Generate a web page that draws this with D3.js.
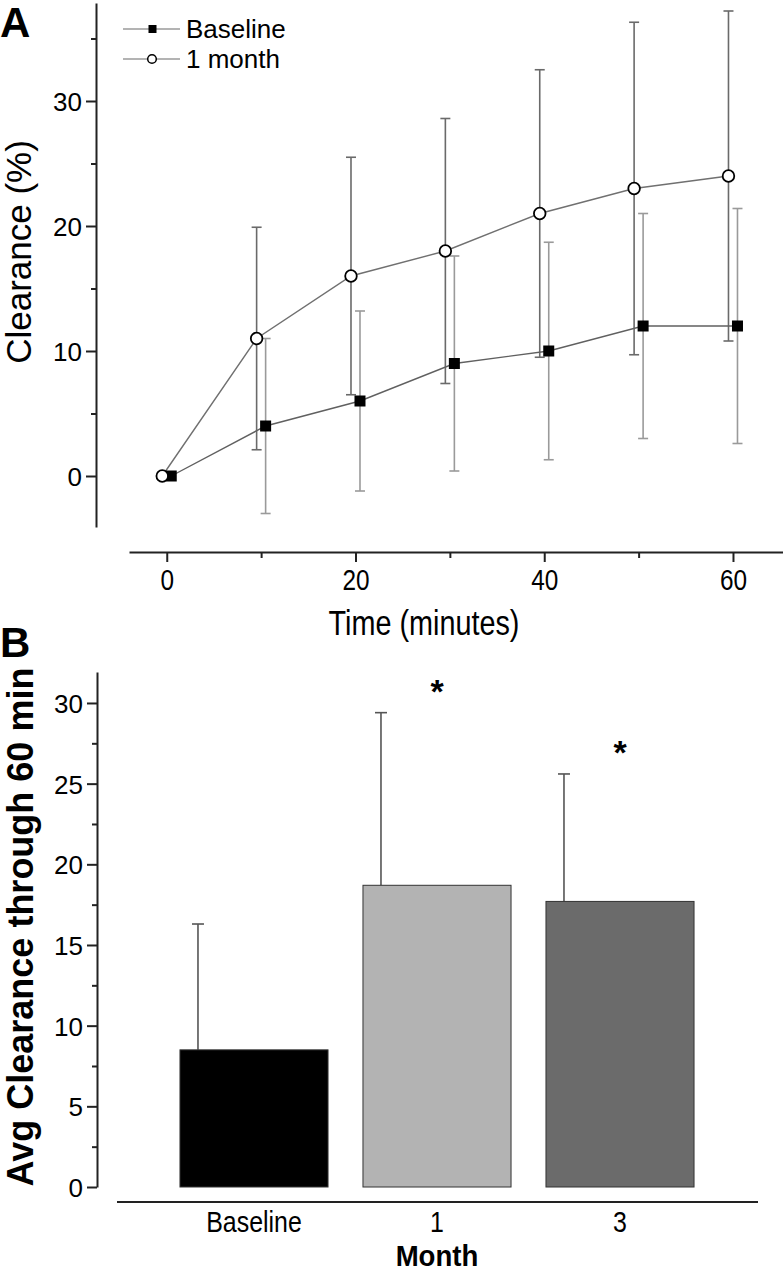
<!DOCTYPE html>
<html>
<head>
<meta charset="utf-8">
<script src="https://cdn.jsdelivr.net/npm/d3@7"></script>
<style>
  body { margin: 0; background: #fff; }
  text { font-family: 'Liberation Sans', Arial, sans-serif; fill: #000; }
</style>
</head>
<body>
<script>
// panel A data (clearance % over time)
const times = [0, 10, 20, 30, 40, 50, 60]
const baseMean = [0, 4, 6, 9, 10, 12, 12]
const baseSD = [0, 7, 7.2, 8.6, 8.7, 9, 9.4]
const monthMean = [0, 11, 16, 18, 21, 23, 24]
const monthSD = [0, 8.9, 9.5, 10.6, 11.5, 13.3, 13.2]
const xTicksA = [0, 20, 40, 60]
const yTicksA = [0, 10, 20, 30]

// panel B data (avg clearance through 60 min)
const months = ['Baseline', '1', '3']
const avgMean = [8.5, 18.7, 17.7]
const avgSD = [7.8, 10.7, 7.9]
const starred = [false, true, true]
const barFill = ['#000000', '#b3b3b3', '#6b6b6b']
const yTicksB = [0, 5, 10, 15, 20, 25, 30]

var svg = d3.select('body').append('svg')
  .attr('width', 783).attr('height', 1272)

// condensed looking text (no narrow font available, so squeeze it)
function narrowText(g, x, y, str, size, sx, weight) {
  return g.append('text')
    .attr('transform', 'translate(' + x + ',' + y + ') scale(' + sx + ',1)')
    .attr('text-anchor', 'middle')
    .style('font-size', size + 'px')
    .style('font-weight', weight || 'normal')
    .text(str)
}

//---------------- panel A
var xA = d3.scaleLinear().domain([-4, 65.3]).range([129, 783])
var yA = d3.scaleLinear().domain([-4.08, 37.84]).range([527, 3])
var dodge = 4.5

var gA = svg.append('g')

// y axis
var yAxA = gA.append('g').attr('transform', 'translate(96,0)')
  .call(d3.axisLeft(yA).tickValues(yTicksA).tickSize(10).tickSizeOuter(0).tickPadding(4))
yAxA.append('g').call(d3.axisLeft(yA).tickValues([5, 15, 25, 35]).tickSize(5).tickFormat(''))
  .select('.domain').remove()
yAxA.selectAll('text').style('font-size', '26px').attr('dy', '0.36em')

// x axis
var xAxA = gA.append('g').attr('transform', 'translate(0,552)')
  .call(d3.axisBottom(xA).tickValues(xTicksA).tickSize(10).tickSizeOuter(0).tickPadding(7))
xAxA.append('g').call(d3.axisBottom(xA).tickValues([10, 30, 50]).tickSize(6).tickFormat(''))
  .select('.domain').remove()
xAxA.selectAll('text').style('font-size', '29px').attr('transform', 'scale(0.84,1)')

svg.selectAll('.domain').attr('stroke', '#222').attr('stroke-width', 2)
svg.selectAll('.tick line').attr('stroke', '#222').attr('stroke-width', 2)

narrowText(gA, 424, 635, 'Time (minutes)', 36, 0.8)

gA.append('text')
  .attr('transform', 'translate(31,252) rotate(-90)')
  .attr('text-anchor', 'middle').style('font-size', '35px')
  .text('Clearance (%)')

gA.append('text').attr('x', 0).attr('y', 37)
  .style('font-size', '42px').style('font-weight', 'bold').text('A')

function errorBars(g, means, sds, off, color) {
  var idx = d3.range(times.length).filter(function(i) { return sds[i] > 0 })
  var eb = g.append('g').attr('stroke', color).attr('stroke-width', 1.6)
  idx.forEach(function(i) {
    var cx = xA(times[i]) + off
    var top = yA(means[i] + sds[i])
    var bot = yA(means[i] - sds[i])
    eb.append('line').attr('x1', cx).attr('x2', cx).attr('y1', top).attr('y2', bot)
    eb.append('line').attr('x1', cx - 5).attr('x2', cx + 5).attr('y1', top).attr('y2', top)
    eb.append('line').attr('x1', cx - 5).attr('x2', cx + 5).attr('y1', bot).attr('y2', bot)
  })
}
errorBars(gA, monthMean, monthSD, -dodge, '#6a6a6a')
errorBars(gA, baseMean, baseSD, dodge, '#9a9a9a')

function lineFor(means, off) {
  return d3.line()
    .x(function(d, i) { return xA(times[i]) + off })
    .y(function(d) { return yA(d) })(means)
}
gA.append('path').attr('d', lineFor(monthMean, -dodge))
  .attr('fill', 'none').attr('stroke', '#707070').attr('stroke-width', 1.4)
gA.append('path').attr('d', lineFor(baseMean, dodge))
  .attr('fill', 'none').attr('stroke', '#606060').attr('stroke-width', 1.4)

gA.selectAll('rect.base').data(baseMean).enter().append('rect')
  .attr('x', function(d, i) { return xA(times[i]) + dodge - 5.5 })
  .attr('y', function(d) { return yA(d) - 5.5 })
  .attr('width', 11).attr('height', 11).attr('fill', '#000')
gA.selectAll('circle.month').data(monthMean).enter().append('circle')
  .attr('cx', function(d, i) { return xA(times[i]) - dodge })
  .attr('cy', function(d) { return yA(d) })
  .attr('r', 5.8).attr('fill', '#fff').attr('stroke', '#000').attr('stroke-width', 1.8)

// legend
var legend = gA.append('g')
var legendRows = [{ name: 'Baseline', y: 29 }, { name: '1 month', y: 59 }]
legendRows.forEach(function(r, i) {
  legend.append('line').attr('x1', 123).attr('x2', 180).attr('y1', r.y).attr('y2', r.y)
    .attr('stroke', '#9a9a9a').attr('stroke-width', 1.6)
  if (i === 0) {
    legend.append('rect').attr('x', 148.5).attr('y', r.y - 4).attr('width', 8).attr('height', 8).attr('fill', '#000')
  } else {
    legend.append('circle').attr('cx', 152).attr('cy', r.y).attr('r', 4.3)
      .attr('fill', '#fff').attr('stroke', '#000').attr('stroke-width', 1.5)
  }
  legend.append('text').attr('x', 186).attr('y', r.y + 9).style('font-size', '26px').text(r.name)
})

//---------------- panel B
var xB = d3.scaleBand().domain(months).range([162.5, 711.5]).paddingInner(0.191).paddingOuter(0.0955)
var yB = d3.scaleLinear().domain([0, 31.92]).range([1187, 672])
var gB = svg.append('g')

var yAxB = gB.append('g').attr('transform', 'translate(97,0)')
  .call(d3.axisLeft(yB).tickValues(yTicksB).tickSize(10).tickSizeOuter(0).tickPadding(4))
yAxB.append('g').call(d3.axisLeft(yB).tickValues(d3.range(2.5, 30, 5)).tickSize(5).tickFormat(''))
  .select('.domain').remove()
yAxB.selectAll('text').style('font-size', '26px').attr('dy', '0.36em')
yAxB.select('.domain').attr('stroke', '#222').attr('stroke-width', 2)
yAxB.selectAll('.tick line').attr('stroke', '#222').attr('stroke-width', 2)

// x axis line (no ticks)
gB.append('line').attr('x1', 117).attr('x2', 758).attr('y1', 1202).attr('y2', 1202)
  .attr('stroke', '#222').attr('stroke-width', 2)
months.forEach(function(m) {
  narrowText(gB, xB(m) + xB.bandwidth() / 2, 1232, m, 29, 0.86)
})
narrowText(gB, 437, 1266, 'Month', 30, 0.92, 'bold')

gB.append('text')
  .attr('transform', 'translate(33,927) rotate(-90)')
  .attr('text-anchor', 'middle').style('font-size', '36px').style('font-weight', 'bold')
  .text('Avg Clearance through 60 min')

gB.append('text').attr('x', 0).attr('y', 657)
  .style('font-size', '42px').style('font-weight', 'bold').text('B')

// error bars (upper only), drawn near the left of each bar
var ebB = gB.append('g').attr('stroke', '#555').attr('stroke-width', 1.6)
months.forEach(function(m, i) {
  var ex = xB(m) + 18
  var top = yB(avgMean[i] + avgSD[i])
  ebB.append('line').attr('x1', ex).attr('x2', ex).attr('y1', top).attr('y2', yB(avgMean[i]))
  ebB.append('line').attr('x1', ex - 6).attr('x2', ex + 6).attr('y1', top).attr('y2', top)
})

gB.selectAll('rect.bar').data(avgMean).enter().append('rect')
  .attr('x', function(d, i) { return xB(months[i]) })
  .attr('y', function(d) { return yB(d) })
  .attr('width', xB.bandwidth())
  .attr('height', function(d) { return yB(0) - yB(d) })
  .attr('fill', function(d, i) { return barFill[i] })
  .attr('stroke', '#333').attr('stroke-width', 1)

months.forEach(function(m, i) {
  if (!starred[i]) return
  gB.append('text')
    .attr('x', xB(m) + xB.bandwidth() / 2)
    .attr('y', yB(avgMean[i] + avgSD[i]) - 10)
    .attr('text-anchor', 'middle').style('font-size', '34px').style('font-weight', 'bold')
    .text('*')
})
</script>
</body>
</html>
